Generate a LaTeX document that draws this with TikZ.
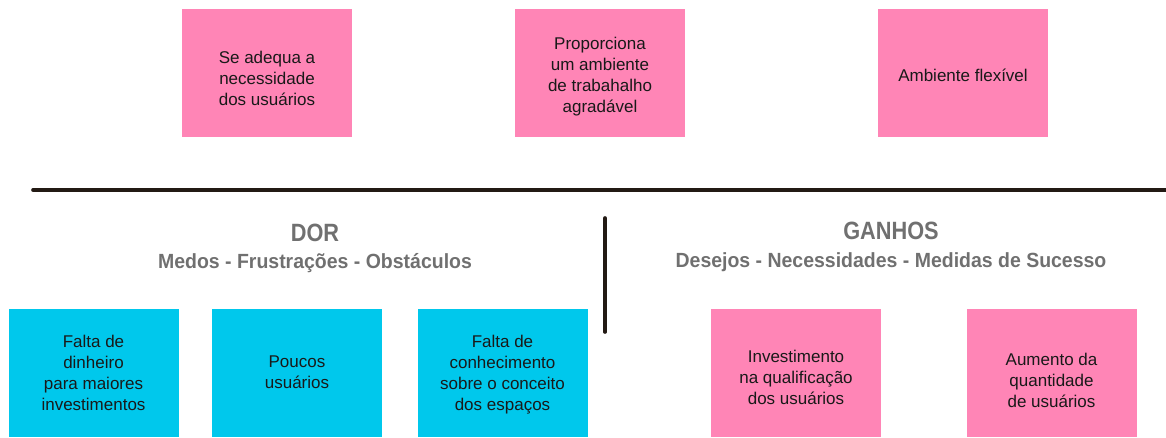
\documentclass[tikz,border=0pt]{standalone}
\usepackage{fontspec}
\usetikzlibrary{calc}
\setmainfont{Liberation Sans}
\newfontfamily\headfont[FakeStretch=0.87]{Liberation Sans}
\newfontfamily\subheadfont[FakeStretch=0.95]{Liberation Sans}
\definecolor{pinkbox}{HTML}{FF85B6}
\definecolor{cyanbox}{HTML}{00C8EC}
\definecolor{headgray}{HTML}{707070}
\definecolor{linedark}{HTML}{231A14}
\begin{document}
\begin{tikzpicture}[x=1pt,y=-1pt,
  card/.style={draw=none,minimum width=170pt,minimum height=128pt,inner sep=0pt},
  pinkcard/.style={card,fill=pinkbox},
  cyancard/.style={card,fill=cyanbox},
  cardtext/.style={inner sep=0pt,align=center,font=\fontsize{17}{21}\selectfont,text=black!90},
  heading/.style={text=headgray,font=\headfont\bfseries\fontsize{25}{28}\selectfont},
  subheading/.style={text=headgray,font=\subheadfont\bfseries\fontsize{20.5}{23}\selectfont},
  rule/.style={draw=linedark,line width=3.6pt,line cap=round}]
\useasboundingbox (0,0) rectangle (1166,437);
% top cards
\node[pinkcard] (t1) at (267,73) {};
\node[cardtext] (t1x) at ($(t1.center)+(0,5)$) {Se adequa a\\necessidade\\dos usuários};
\node[pinkcard] (t2) at (600,73) {};
\node[cardtext] (t2x) at ($(t2.center)+(0,4)$) {Proporciona\\um ambiente\\de trabahalho\\agradável};
\node[pinkcard] (t3) at (963,73) {};
\node[cardtext] (t3x) at ($(t3.center)+(0,2)$) {Ambiente flexível};
% rules
\coordinate (hl) at (33,190);
\coordinate (hr) at (1170,190);
\draw[rule] (hl) -- (hr);
\coordinate (vt) at (605,218);
\coordinate (vb) at (605,332);
\draw[rule] (vt) -- (vb);
% headings
\node[heading] (dor) at (315,233) {DOR};
\node[subheading] (dorsub) at (315,263) {Medos - Frustrações - Obstáculos};
\node[heading] (ganhos) at (891,231) {GANHOS};
\node[subheading] (ganhossub) at (891,262) {Desejos - Necessidades - Medidas de Sucesso};
% bottom cards
\node[cyancard] (c1) at (93.5,373) {};
\node[cardtext] (c1x) at ($(c1.center)+(0,0)$) {Falta de\\dinheiro\\para maiores\\investimentos};
\node[cyancard] (c2) at (297,373) {};
\node[cardtext] (c2x) at ($(c2.center)+(0,-1)$) {Poucos\\usuários};
\node[cyancard] (c3) at (502.5,373) {};
\node[cardtext] (c3x) at ($(c3.center)+(0,2)$) {Falta de\\conhecimento\\sobre o conceito\\dos espaços};
\node[pinkcard] (g1) at (796,373) {};
\node[cardtext] (g1x) at ($(g1.center)+(0,4)$) {Investimento\\na qualificação\\dos usuários};
\node[pinkcard] (g2) at (1051.5,373) {};
\node[cardtext] (g2x) at ($(g2.center)+(0,7)$) {Aumento da\\quantidade\\de usuários};
\end{tikzpicture}
\end{document}
